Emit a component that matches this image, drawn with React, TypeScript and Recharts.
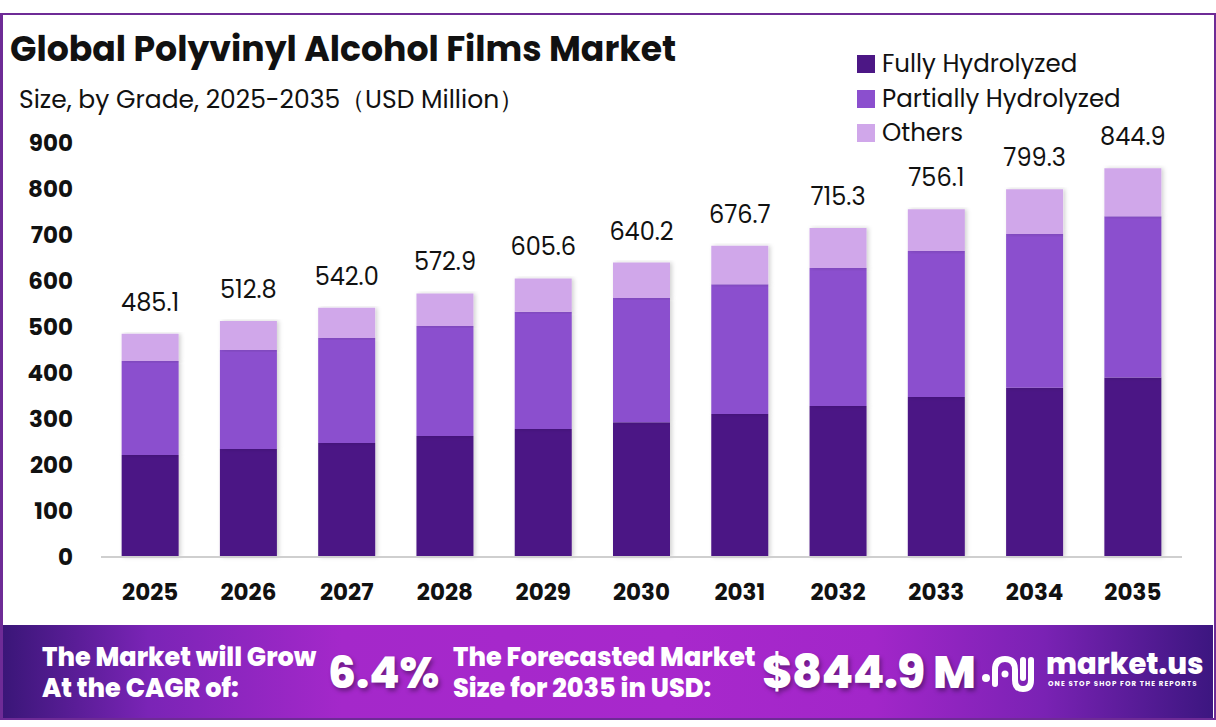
import { BarChart, Bar, XAxis, YAxis, LabelList } from 'recharts';

const years = ['2025', '2026', '2027', '2028', '2029', '2030', '2031', '2032', '2033', '2034', '2035'];
const fullyHydrolyzed = [222, 235, 248, 263, 278, 293, 311, 328, 348, 368, 390];
const partiallyHydrolyzed = [204, 215, 228, 239, 255, 270, 282, 300, 317, 334, 351];
const others = [59.1, 62.8, 66.0, 70.9, 72.6, 77.2, 83.7, 87.3, 91.1, 97.3, 103.9];
const totals = [485.1, 512.8, 542.0, 572.9, 605.6, 640.2, 676.7, 715.3, 756.1, 799.3, 844.9];
const yTicks = [0, 100, 200, 300, 400, 500, 600, 700, 800, 900];

const SERIES = [
  { key: 'fully', name: 'Fully Hydrolyzed', color: '#4c1785' },
  { key: 'partial', name: 'Partially Hydrolyzed', color: '#8b4fce' },
  { key: 'others', name: 'Others', color: '#d0a7ea' },
];

const FONT = 'Poppins, Inter, "Open Sans", sans-serif';

const data = years.map((year, i) => ({
  year,
  fully: fullyHydrolyzed[i],
  partial: partiallyHydrolyzed[i],
  others: others[i],
  total: totals[i],
}));

function TotalLabel(props: any) {
  const { x, y, width, index } = props;
  return (
    <text
      x={x + width / 2}
      y={y - 23}
      textAnchor="middle"
      fontSize={24}
      fontFamily={FONT}
      fill="#111"
    >
      {totals[index].toFixed(1)}
    </text>
  );
}

const banner: React.CSSProperties = {
  position: 'absolute',
  fontWeight: 800,
  whiteSpace: 'nowrap',
  lineHeight: 1,
};

export default function App() {
  return (
    <div style={{ position: 'relative', width: 1216, height: 727, background: '#fff', overflow: 'hidden', fontFamily: FONT }}>
      <style>{'body{margin:0}'}</style>
      <div
        style={{
          position: 'absolute',
          left: 0,
          top: 13,
          width: 1211,
          height: 703,
          border: '2px solid #6e2b96',
          borderLeftWidth: 3,
        }}
      />
      <div style={{ position: 'absolute', left: 10, top: 32, fontSize: 34.7, lineHeight: 1, fontWeight: 700, color: '#111', whiteSpace: 'nowrap' }}>
        Global Polyvinyl Alcohol Films Market
      </div>
      <div style={{ position: 'absolute', left: 19, top: 87, fontSize: 25, lineHeight: 1, color: '#111', whiteSpace: 'nowrap' }}>
        Size, by Grade, 2025-2035（USD Million）
      </div>

      <div style={{ position: 'absolute', left: 857, top: 47 }}>
        {SERIES.map((s) => (
          <div key={s.key} style={{ display: 'flex', alignItems: 'center', height: 34.5 }}>
            <span style={{ width: 18, height: 18, background: s.color, marginRight: 7, display: 'inline-block' }} />
            <span style={{ fontSize: 24.5, color: '#111', lineHeight: 1 }}>{s.name}</span>
          </div>
        ))}
      </div>

      <div style={{ position: 'absolute', left: 0, top: 0 }}>
        <BarChart
          width={1216}
          height={620}
          data={data}
          margin={{ top: 143, right: 34, bottom: 33, left: 0 }}
          barCategoryGap="21%"
        >
          <defs>
            <filter id="barShadow" x="-10%" y="-5%" width="125%" height="110%">
              <feDropShadow dx="2" dy="0" stdDeviation="2" floodColor="#000" floodOpacity="0.18" />
            </filter>
          </defs>
          <XAxis
            dataKey="year"
            height={30}
            tickLine={false}
            axisLine={{ stroke: '#cfcfcf', strokeWidth: 2 }}
            tickSize={6}
            tickMargin={21}
            tick={{ fontSize: 23, fontWeight: 700, fill: '#111', fontFamily: FONT }}
          />
          <YAxis
            width={101}
            domain={[0, 900]}
            ticks={yTicks}
            axisLine={false}
            tickLine={false}
            tickSize={6}
            tickMargin={22}
            tick={{ fontSize: 23, fontWeight: 700, fill: '#111', fontFamily: FONT }}
          />
          {SERIES.map((s) => (
            <Bar
              key={s.key}
              dataKey={s.key}
              name={s.name}
              stackId="a"
              fill={s.color}
              filter="url(#barShadow)"
              isAnimationActive={false}
            >
              {s.key === 'others' && <LabelList dataKey="total" content={TotalLabel} />}
            </Bar>
          ))}
        </BarChart>
      </div>

      <div
        style={{
          position: 'absolute',
          left: 3,
          top: 625,
          width: 1210,
          height: 93,
          background: 'linear-gradient(90deg, #3a1678 0%, #7a24b6 12%, #a428ca 28%, #a828cc 55%, #a226c9 72%, #7a22b4 86%, #3c1680 100%)',
          color: '#fff',
        }}
      >
        <div style={{ ...banner, left: 39, top: 20, fontSize: 25.5 }}>The Market will Grow</div>
        <div style={{ ...banner, left: 39, top: 51, fontSize: 25.5 }}>At the CAGR of:</div>
        <div style={{ ...banner, left: 325, top: 26, fontSize: 44, textShadow: '2px 3px 4px rgba(0,0,0,0.35)' }}>
          6.4%
        </div>
        <div style={{ ...banner, left: 450, top: 20, fontSize: 25.5 }}>The Forecasted Market</div>
        <div style={{ ...banner, left: 450, top: 51, fontSize: 25.5 }}>Size for 2035 in USD:</div>
        <div style={{ ...banner, left: 759, top: 24, fontSize: 46, letterSpacing: -0.5, textShadow: '2px 3px 4px rgba(0,0,0,0.35)' }}>
          $844.9 M
        </div>
        <svg style={{ position: 'absolute', left: 978, top: 29 }} width={58} height={40}>
          <circle cx={5} cy={24} r={4} fill="#fff" />
          <path d="M14 30 L14 16 Q14 5 24 5 Q34 5 34 16 L34 26 Q34 35 42 35 Q50 35 50 26 L50 6" stroke="#fff" strokeWidth={6} fill="none" strokeLinecap="round" />
          <circle cx={24} cy={20} r={3.5} fill="#fff" />
          <path d="M42 6 L42 24" stroke="#fff" strokeWidth={6} strokeLinecap="round" />
        </svg>
        <div style={{ ...banner, left: 1043, top: 25, fontSize: 29 }}>market.us</div>
        <div style={{ ...banner, left: 1045, top: 55, fontSize: 7, fontWeight: 700, letterSpacing: 1.1 }}>
          ONE STOP SHOP FOR THE REPORTS
        </div>
      </div>
    </div>
  );
}
